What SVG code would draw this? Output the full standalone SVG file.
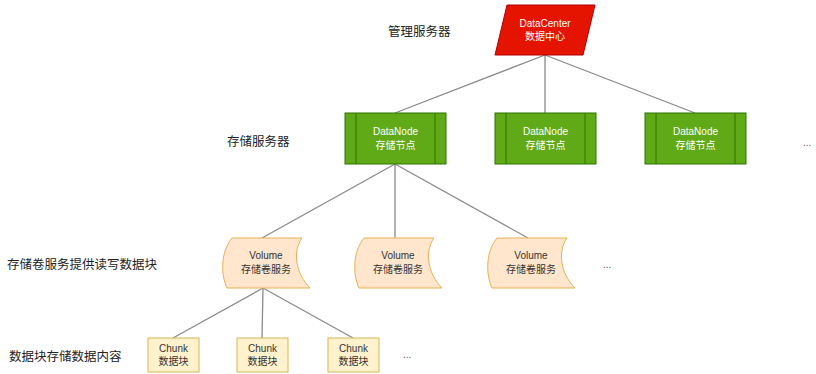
<svg xmlns="http://www.w3.org/2000/svg" width="816" height="374" viewBox="0 0 816 374">
<style>
.lbl{font-family:"Liberation Sans","Noto Sans CJK SC",sans-serif;font-size:12.5px;fill:#222}
.nt{font-family:"Liberation Sans","Noto Sans CJK SC",sans-serif;font-size:10px;text-anchor:middle}
.w{fill:#ffffff}
.d{fill:#333333}
.edge{stroke:#8a8a8a;stroke-width:1.3;fill:none}
.dn{fill:#60a917;stroke:#2d7600;stroke-width:1}
.dnl{stroke:#2d7600;stroke-width:1}
.vol{fill:#ffe6cc;stroke:#e6b050;stroke-width:1}
.ch{fill:#fff2cc;stroke:#d6b656;stroke-width:1}
.dots{font-family:"Liberation Sans",sans-serif;font-size:10px;fill:#555}
</style>
<rect width="816" height="374" fill="#ffffff"/>
<g id="connectors">
<line class="edge" x1="545" y1="55" x2="395" y2="113"/>
<line class="edge" x1="545" y1="55" x2="545" y2="113"/>
<line class="edge" x1="545" y1="55" x2="695" y2="113"/>
<line class="edge" x1="395" y1="164" x2="262" y2="238"/>
<line class="edge" x1="395" y1="164" x2="395" y2="238"/>
<line class="edge" x1="395" y1="164" x2="528" y2="238"/>
<line class="edge" x1="263" y1="288" x2="173" y2="338"/>
<line class="edge" x1="263" y1="288" x2="262" y2="338"/>
<line class="edge" x1="263" y1="288" x2="353" y2="338"/>
</g>
<g id="labels">
<text class="lbl" x="388" y="36">管理服务器</text>
<text class="lbl" x="227" y="146">存储服务器</text>
<text class="lbl" x="7" y="269">存储卷服务提供读写数据块</text>
<text class="lbl" x="9" y="361">数据块存储数据内容</text>
</g>
<g id="datacenter">
<polygon points="507,5 595,5 583,55 495,55" fill="#e51400" stroke="#b20000" stroke-width="1"/>
<text class="nt w" x="545" y="27">DataCenter</text>
<text class="nt w" x="545" y="40">数据中心</text>
</g>
<g id="datanode1">
<rect class="dn" x="345" y="113" width="101" height="51"/>
<line class="dnl" x1="356" y1="113" x2="356" y2="164"/>
<line class="dnl" x1="435" y1="113" x2="435" y2="164"/>
<text class="nt w" x="395.5" y="135">DataNode</text>
<text class="nt w" x="395.5" y="149">存储节点</text>
</g>
<g id="datanode2">
<rect class="dn" x="495" y="113" width="101" height="51"/>
<line class="dnl" x1="506" y1="113" x2="506" y2="164"/>
<line class="dnl" x1="585" y1="113" x2="585" y2="164"/>
<text class="nt w" x="545.5" y="135">DataNode</text>
<text class="nt w" x="545.5" y="149">存储节点</text>
</g>
<g id="datanode3">
<rect class="dn" x="645" y="113" width="101" height="51"/>
<line class="dnl" x1="656" y1="113" x2="656" y2="164"/>
<line class="dnl" x1="735" y1="113" x2="735" y2="164"/>
<text class="nt w" x="695.5" y="135">DataNode</text>
<text class="nt w" x="695.5" y="149">存储节点</text>
</g>
<text class="dots" x="803" y="146">...</text>
<defs>
<path id="volshape" d="M -34 0 L 36 0 C 26 14, 30 36, 44 50 L -39 50 C -44 40, -47 16, -34 0 Z"/>
</defs>
<g id="volume1">
<use href="#volshape" class="vol" x="266" y="238"/>
<text class="nt d" x="266" y="259">Volume</text>
<text class="nt d" x="266" y="273">存储卷服务</text>
</g>
<g id="volume2">
<use href="#volshape" class="vol" x="398" y="238"/>
<text class="nt d" x="398" y="259">Volume</text>
<text class="nt d" x="398" y="273">存储卷服务</text>
</g>
<g id="volume3">
<use href="#volshape" class="vol" x="531" y="238"/>
<text class="nt d" x="531" y="259">Volume</text>
<text class="nt d" x="531" y="273">存储卷服务</text>
</g>
<text class="dots" x="603" y="268">...</text>
<g id="chunk1">
<rect class="ch" x="148" y="338" width="51" height="34"/>
<text class="nt d" x="173.5" y="352">Chunk</text>
<text class="nt d" x="173.5" y="365">数据块</text>
</g>
<g id="chunk2">
<rect class="ch" x="237" y="338" width="51" height="34"/>
<text class="nt d" x="262.5" y="352">Chunk</text>
<text class="nt d" x="262.5" y="365">数据块</text>
</g>
<g id="chunk3">
<rect class="ch" x="328" y="338" width="51" height="34"/>
<text class="nt d" x="353.5" y="352">Chunk</text>
<text class="nt d" x="353.5" y="365">数据块</text>
</g>
<text class="dots" x="403" y="358">...</text>
</svg>
